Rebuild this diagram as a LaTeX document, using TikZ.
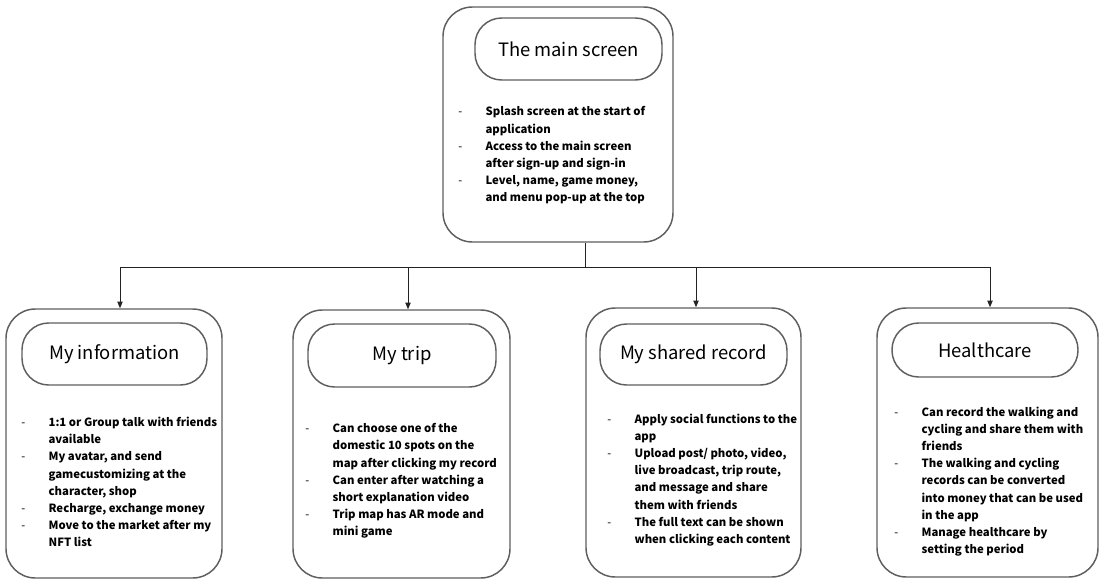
\documentclass[tikz,border=0pt]{standalone}
\usepackage{fontspec}
\setmainfont{Noto Sans CJK KR}
\usetikzlibrary{arrows.meta,positioning,calc}
\definecolor{boxgray}{RGB}{95,95,95}
\definecolor{linkgray}{RGB}{35,35,35}
\newcommand{\dashit}{\makebox[20.5pt][l]{\mdseries -}}
\newcommand{\contit}{\hspace*{20.5pt}}

\begin{document}
\begin{tikzpicture}[
    x=0.75pt, y=-0.75pt,
    card/.style={draw=boxgray, line width=1.1pt, rounded corners=22pt,
                 inner sep=0pt, fill=white},
    pill/.style={draw=boxgray, line width=1.1pt, rounded corners=20pt,
                 inner sep=0pt, font=\fontsize{13.8}{16}\selectfont},
    notes/.style={anchor=west, align=left, inner sep=0pt,
                  font=\bfseries\fontsize{8.5}{12.9}\selectfont},
    link/.style={line width=0.7pt, draw=linkgray},
    arr/.style={link, -{Triangle[length=5pt,width=4pt]}}
]
\useasboundingbox (0,0) rectangle (1099,582);
% top screen
\node[card, minimum width=172.5pt, minimum height=176.25pt] (main) at (558,124.5) {};
\node[pill, minimum width=140.25pt, minimum height=46.5pt] (mainhead) at (568.5,49) {The main screen};
\node[notes] (mainnotes) at (458,155.5)
    {\dashit Splash screen at the start of\\
     \contit application\\
     \dashit Access to the main screen\\
     \contit after sign-up and sign-in\\
     \dashit Level, name, game money,\\
     \contit and menu pop-up at the top};
% menu cards
\node[card, minimum width=162pt, minimum height=201.75pt] (info) at (114,443.5) {};
\node[pill, minimum width=138.75pt, minimum height=46.5pt] (infohead) at (114.5,354) {My information};
\node[notes] (infonotes) at (21,482)
    {\dashit 1:1 or Group talk with friends\\
     \contit available\\
     \dashit My avatar, and send\\
     \contit gamecustomizing at the\\
     \contit character, shop\\
     \dashit Recharge, exchange money\\
     \dashit Move to the market after my\\
     \contit NFT list};
\node[card, minimum width=162.75pt, minimum height=201pt] (trip) at (401.5,444) {};
\node[pill, minimum width=141pt, minimum height=47.25pt] (triphead) at (402,355.5) {My trip};
\node[notes] (tripnotes) at (305,481)
    {\dashit Can choose one of the\\
     \contit domestic 10 spots on the\\
     \contit map after clicking my record\\
     \dashit Can enter after watching a\\
     \contit short explanation video\\
     \dashit Trip map has AR mode and\\
     \contit mini game};
\node[card, minimum width=161.25pt, minimum height=201.75pt] (share) at (693.5,442.5) {};
\node[pill, minimum width=140.25pt, minimum height=45.75pt] (sharehead) at (693.5,354.5) {My shared record};
\node[notes] (sharenotes) at (607,480)
    {\dashit Apply social functions to the\\
     \contit app\\
     \dashit Upload post/ photo, video,\\
     \contit live broadcast, trip route,\\
     \contit and message and share\\
     \contit them with friends\\
     \dashit The full text can be shown\\
     \contit when clicking each content};
\node[card, minimum width=165.75pt, minimum height=201.75pt] (health) at (987.5,442.5) {};
\node[pill, minimum width=139.5pt, minimum height=40.5pt] (healthhead) at (985,350) {Healthcare};
\node[notes] (healthnotes) at (894,481.5)
    {\dashit Can record the walking and\\
     \contit cycling and share them with\\
     \contit friends\\
     \dashit The walking and cycling\\
     \contit records can be converted\\
     \contit into money that can be used\\
     \contit in the app\\
     \dashit Manage healthcare by\\
     \contit setting the period};
% connectors
\coordinate (split) at (585,267);
\draw[link] (main.south -| split) -- (split);
\foreach \n/\dx in {info/6,trip/6.5,share/2.5,health/2.5}
    \draw[arr] (split) -| ([xshift=\dx*0.75pt]\n.north);
\end{tikzpicture}
\end{document}
